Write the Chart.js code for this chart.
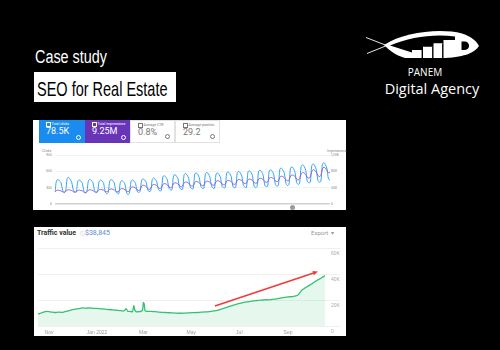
<!DOCTYPE html>
<html>
<head>
<meta charset="utf-8">
<script src="https://cdn.jsdelivr.net/npm/chart.js@4.4.1/dist/chart.umd.min.js"></script>
<style>
html, body { margin: 0; padding: 0; background: #000; }
#slide { position: relative; width: 500px; height: 350px; background: #000; overflow: hidden; font-family: Roboto, sans-serif; }
.abs { position: absolute; white-space: nowrap; }
#case { left: 35px; top: 48px; color: #fff; font: 18px/18px "Liberation Sans", sans-serif; transform: scaleX(0.8); transform-origin: 0 0; }
#seo { left: 34px; top: 72px; width: 142px; height: 30px; background: #fff; }
#seo span { position: absolute; left: 3px; top: 6px; color: #000; font: 21px/21px "Liberation Sans", sans-serif; transform: scaleX(0.69); transform-origin: 0 0; }
#panem { left: 360px; top: 66px; width: 130px; text-align: center; color: #fff; font: 10px/12px "Open Sans", sans-serif; }
#agency { left: 358px; top: 81px; width: 148px; text-align: center; color: #fff; font: 14.5px/16px "Open Sans", sans-serif; }
#p1 { left: 33px; top: 120px; width: 313px; height: 90px; background: #fff; }
#p2 { left: 34px; top: 227px; width: 312px; height: 109px; background: #fff; }
.tile { position: absolute; top: 0; height: 23px; box-sizing: border-box; }
.lab { position: absolute; left: 7px; top: 2px; font-size: 3.5px; line-height: 4px; white-space: nowrap; }
.cb { display: inline-block; width: 2.5px; height: 2.5px; border: 0.5px solid currentColor; margin-right: 1px; vertical-align: middle; }
.val { position: absolute; left: 7px; top: 7px; font-size: 9px; line-height: 9px; }
.q { position: absolute; right: 4px; bottom: 3px; width: 3px; height: 3px; border: 0.6px solid currentColor; border-radius: 50%; }
.ax { font-size: 3.5px; color: #888; }
#knob { left: 290px; top: 205px; width: 5px; height: 5px; border-radius: 50%; background: #9a9a9a; }
#tvTitle { left: 37px; top: 229px; font: bold 7px/8px Roboto, sans-serif; color: #333; }
#tvInfo { left: 80px; top: 229px; font: 5px/8px Roboto, sans-serif; color: #bbb; }
#tvSum { left: 85px; top: 229px; font: 7px/8px Roboto, sans-serif; color: #5b8bd0; }
#tvExport { left: 311px; top: 229px; font: 6px/8px Roboto, sans-serif; color: #999; }
canvas { position: absolute; }
</style>
</head>
<body>
<div id="slide">
  <div class="abs" id="case">Case study</div>
  <div class="abs" id="seo"><span>SEO for Real Estate</span></div>

  <svg class="abs" style="left:360px;top:28px" width="125" height="35" viewBox="360 28 125 35">
    <path d="M366,37.5 L393,48 M367,53.5 L393,43" stroke="#fff" stroke-width="0.9" fill="none"/>
    <path d="M384,45 C404,32 440,28 462,33.5 C472,36.5 477,42 479,46 C475,52 466,57 445,58 L405,58 C395,55 389,50 384,45 Z" fill="#fff"/>
    <path d="M390,45.5 C410,37 434,33.5 455,36.5 L455,40 L443.5,40 L443.5,43.3 L433.5,43.3 L433.5,46.7 L423,46.7 L423,50 L412,50 L412,52.5 Z" fill="#000"/>
    <rect x="421.6" y="50" width="1.4" height="8" fill="#000"/>
    <rect x="432.1" y="46.7" width="1.4" height="11.3" fill="#000"/>
    <rect x="442.1" y="43.3" width="1.4" height="14.7" fill="#000"/>
    <path d="M461.5,41.5 L464,41.5 C467.5,41.5 469,43.5 469,45.8 C469,48.2 467.5,50 464,50 L461.5,50 Z" fill="#000"/>
  </svg>
  <div class="abs" id="panem">PANEM</div>
  <div class="abs" id="agency">Digital Agency</div>

  <div class="abs" id="p1">
    <div class="tile" style="left:6px;width:46px;background:#1a8cf0;color:#fff">
      <div class="lab"><span class="cb"></span>Total clicks</div>
      <div class="val">78.5K</div>
      <div class="q"></div>
    </div>
    <div class="tile" style="left:52px;width:45px;background:#6935b8;color:#fff">
      <div class="lab"><span class="cb"></span>Total impressions</div>
      <div class="val">9.25M</div>
      <div class="q"></div>
    </div>
    <div class="tile" style="left:97px;width:45px;background:#fff;color:#777;border:0.5px solid #e2e2e2">
      <div class="lab"><span class="cb"></span>Average CTR</div>
      <div class="val">0.8%</div>
      <div class="q"></div>
    </div>
    <div class="tile" style="left:142px;width:45px;background:#fff;color:#777;border:0.5px solid #e2e2e2">
      <div class="lab"><span class="cb"></span>Average position</div>
      <div class="val">29.2</div>
      <div class="q"></div>
    </div>
  </div>
  <div class="abs ax" style="left:42px;top:149px">Clicks</div>
  <div class="abs ax" style="left:327px;top:149px">Impressions</div>
  <canvas id="gsc" width="313" height="66" style="left:33px;top:145px"></canvas>
  <div class="abs" id="knob"></div>

  <div class="abs" id="p2"></div>
  <div class="abs" id="tvTitle">Traffic value</div>
  <div class="abs" id="tvInfo">ⓘ</div>
  <div class="abs" id="tvSum">$38,845</div>
  <div class="abs" id="tvExport">Export &nbsp;▾</div>
  <canvas id="tv" width="312" height="98" style="left:34px;top:240px"></canvas>
</div>

<script>
// Search Console: daily clicks, one row per week
const clicksDaily = [
  220, 430, 450, 420, 390, 250, 210,
  230, 470, 490, 450, 400, 260, 220,
  220, 420, 440, 420, 380, 240, 200,
  230, 430, 450, 430, 390, 250, 210,
  220, 410, 440, 420, 380, 230, 190,
  210, 420, 450, 430, 390, 240, 200,
  190, 400, 430, 410, 370, 220, 170,
  200, 410, 440, 420, 380, 240, 210,
  230, 440, 460, 440, 400, 260, 230,
  240, 450, 480, 450, 410, 270, 240,
  250, 500, 520, 490, 440, 290, 260,
  260, 520, 540, 510, 460, 300, 270,
  270, 540, 560, 530, 470, 310, 280,
  280, 550, 570, 540, 480, 320, 290,
  290, 560, 580, 550, 490, 330, 290,
  290, 550, 570, 540, 480, 320, 300,
  300, 570, 590, 560, 500, 330, 300,
  310, 580, 600, 570, 510, 340, 310,
  300, 590, 610, 580, 520, 330, 300,
  320, 600, 620, 590, 530, 350, 320,
  330, 610, 630, 600, 540, 360, 330,
  340, 640, 660, 620, 560, 380, 340,
  360, 660, 680, 650, 580, 400, 360,
  380, 690, 720, 690, 620, 420, 390,
  400, 700, 740, 700, 630, 440, 400,
  420, 730, 760, 720, 650, 460, 440
];

// daily impressions, same weeks
const impressionsDaily = [
  30000, 33000, 34000, 33000, 32000, 30000, 29000,
  31000, 34000, 35000, 34000, 33000, 30000, 29000,
  30000, 33000, 34000, 33000, 32000, 29000, 28000,
  30000, 34000, 35000, 34000, 33000, 30000, 29000,
  31000, 35000, 36000, 35000, 34000, 31000, 30000,
  32000, 36000, 37000, 36000, 35000, 31000, 30000,
  31000, 36000, 38000, 37000, 35000, 32000, 30000,
  33000, 40000, 42000, 41000, 39000, 35000, 33000,
  35000, 44000, 46000, 45000, 43000, 38000, 36000,
  38000, 46000, 48000, 47000, 45000, 40000, 38000,
  40000, 48000, 50000, 49000, 47000, 42000, 40000,
  42000, 50000, 52000, 51000, 49000, 44000, 42000,
  44000, 52000, 54000, 53000, 51000, 46000, 44000,
  45000, 53000, 55000, 54000, 52000, 47000, 45000,
  46000, 54000, 56000, 55000, 53000, 48000, 46000,
  47000, 55000, 57000, 56000, 54000, 49000, 47000,
  48000, 56000, 58000, 57000, 55000, 50000, 48000,
  50000, 58000, 60000, 59000, 57000, 52000, 50000,
  51000, 59000, 61000, 60000, 58000, 53000, 51000,
  52000, 61000, 63000, 62000, 60000, 55000, 53000,
  54000, 63000, 65000, 64000, 62000, 57000, 55000,
  56000, 66000, 68000, 67000, 64000, 59000, 57000,
  58000, 69000, 71000, 70000, 67000, 61000, 59000,
  62000, 74000, 77000, 76000, 72000, 66000, 63000,
  66000, 80000, 84000, 82000, 78000, 70000, 67000,
  70000, 86000, 90000, 88000, 82000, 76000, 78000
];

const clicksTicks = ['0', '300', '600', '900'];
const imprTicks = ['0', '40K', '80K', '120K'];

// Ahrefs traffic value: days since 18 Oct 2021, value in USD
const tvDays = [0, 4, 8, 11, 15, 19, 22, 26, 30, 34, 38, 42, 46, 50, 54, 57, 61, 66, 70, 75,
  80, 85, 90, 95, 100, 104, 108, 110, 112, 114, 117, 120, 121, 122, 123, 125, 128, 131, 133, 134,
  135, 136, 137, 140, 144, 149, 154, 159, 164, 170, 175, 181, 186, 191, 196, 202, 207, 212, 216, 220,
  224, 228, 232, 236, 240, 244, 248, 253, 258, 262, 266, 270, 275, 279, 283, 286, 290, 295, 300, 304,
  308, 312, 316, 321, 325, 328, 330, 332, 334, 336, 339, 342, 346, 349, 352, 355, 359, 362, 365];
const tvValues = [9200, 10000, 10800, 11200, 10900, 10600, 10400, 10700, 10500, 11000, 11600, 12300, 12800, 13200, 13600, 13900, 13700, 14000, 13600, 13500,
  13200, 13000, 12600, 12400, 12100, 11900, 11500, 12000, 13400, 11400, 11200, 11000, 13000, 15600, 12500, 10900, 11000, 11200, 12500, 18000,
  17000, 12000, 11400, 11300, 11200, 11000, 10700, 10500, 10300, 10100, 9900, 9800, 9900, 10100, 10300, 10400, 10600, 10800, 10900, 11200,
  11600, 12100, 12800, 13500, 14300, 15200, 15900, 16800, 17600, 18200, 18600, 18900, 19300, 19600, 19900, 20000, 20200, 20100, 20600, 20800,
  21500, 21900, 22200, 22500, 22800, 23200, 23600, 24800, 26500, 27800, 29000, 30200, 31600, 32800, 34000, 35200, 36400, 37600, 38800];

const tvMonthDays = [14, 75, 134, 195, 256, 318];
const tvMonthLabels = ['Nov', 'Jan 2022', 'Mar', 'May', 'Jul', 'Sep'];
const tvYTicks = ['0', '20K', '40K', '60K'];

// red trend arrow, in data units [day, value]
const arrowStart = [225, 15400];
const arrowEnd = [356, 41900];

new Chart(document.getElementById('gsc'), {
  type: 'line',
  data: {
    labels: clicksDaily.map((_, i) => i),
    datasets: [{
      data: impressionsDaily,
      yAxisID: 'yR',
      borderColor: '#9463d6',
      borderWidth: 1,
      tension: 0.3
    },
    {
      data: clicksDaily,
      yAxisID: 'yL',
      borderColor: '#35a8f2',
      borderWidth: 1,
      tension: 0.3
    }]
  },
  options: {
    responsive: false,
    animation: false,
    layout: { padding: { top: 10, bottom: 7, left: 0, right: 0 } },
    plugins: { legend: { display: false }, tooltip: { enabled: false } },
    elements: { point: { radius: 0 } },
    scales: {
      x: { display: false },
      yL: {
        position: 'left', min: 0, max: 900,
        ticks: { stepSize: 300, padding: 3, color: '#888', font: { size: 3.5 }, callback: (v, i) => clicksTicks[i] },
        grid: {
          drawTicks: false,
          color: c => c.tick.value === 0 ? '#d2d2d2' : '#eeeeee',
          lineWidth: c => c.tick.value === 0 ? 1.5 : 0.7
        },
        border: { display: false },
        afterFit(s) { s.width = 22; }
      },
      yR: {
        position: 'right', min: 0, max: 120000,
        ticks: { stepSize: 40000, padding: 1, color: '#888', font: { size: 3.5 }, callback: (v, i) => imprTicks[i] },
        grid: { display: false, drawTicks: false },
        border: { display: false },
        afterFit(s) { s.width = 16; }
      }
    }
  }
});

const arrowPlugin = {
  id: 'trendArrow',
  afterDatasetsDraw(chart) {
    const { ctx, scales: { x, y } } = chart;
    const x1 = x.getPixelForValue(arrowStart[0]), y1 = y.getPixelForValue(arrowStart[1]);
    const x2 = x.getPixelForValue(arrowEnd[0]), y2 = y.getPixelForValue(arrowEnd[1]);
    const a = Math.atan2(y2 - y1, x2 - x1);
    ctx.save();
    ctx.strokeStyle = '#f03a3a';
    ctx.fillStyle = '#f03a3a';
    ctx.lineWidth = 1.5;
    ctx.beginPath();
    ctx.moveTo(x1, y1);
    ctx.lineTo(x2 - 3 * Math.cos(a), y2 - 3 * Math.sin(a));
    ctx.stroke();
    ctx.beginPath();
    ctx.moveTo(x2, y2);
    ctx.lineTo(x2 - 5 * Math.cos(a) + 2.2 * Math.sin(a), y2 - 5 * Math.sin(a) - 2.2 * Math.cos(a));
    ctx.lineTo(x2 - 5 * Math.cos(a) - 2.2 * Math.sin(a), y2 - 5 * Math.sin(a) + 2.2 * Math.cos(a));
    ctx.closePath();
    ctx.fill();
    ctx.restore();
  }
};

new Chart(document.getElementById('tv'), {
  type: 'line',
  data: {
    datasets: [{
      data: tvDays.map((d, i) => ({ x: d, y: tvValues[i] })),
      borderColor: '#33c172',
      backgroundColor: 'rgba(51, 193, 114, 0.12)',
      fill: 'origin',
      borderWidth: 1.3,
      pointRadius: 0,
      tension: 0.2
    }]
  },
  options: {
    responsive: false,
    animation: false,
    layout: { padding: { top: 8, bottom: 2, left: 4, right: 0 } },
    plugins: { legend: { display: false }, tooltip: { enabled: false } },
    scales: {
      x: {
        type: 'linear', min: 0, max: 365,
        afterBuildTicks(s) { s.ticks = tvMonthDays.map(v => ({ value: v })); },
        ticks: { autoSkip: false, maxRotation: 0, padding: 3.5, color: '#999', font: { size: 5 }, callback: (v, i) => tvMonthLabels[i] },
        grid: { display: false, drawTicks: false },
        border: { display: false },
        afterFit(s) { s.height = 10; }
      },
      y: {
        position: 'right', min: 0, max: 60000,
        ticks: { stepSize: 20000, padding: -9, labelOffset: 6, color: '#aaa', font: { size: 5 }, callback: (v, i) => tvYTicks[i] },
        grid: { tickLength: 15, color: '#ececec', lineWidth: 0.8 },
        border: { display: false },
        afterFit(s) { s.width = 21; }
      }
    }
  },
  plugins: [arrowPlugin]
});
</script>
</body>
</html>
